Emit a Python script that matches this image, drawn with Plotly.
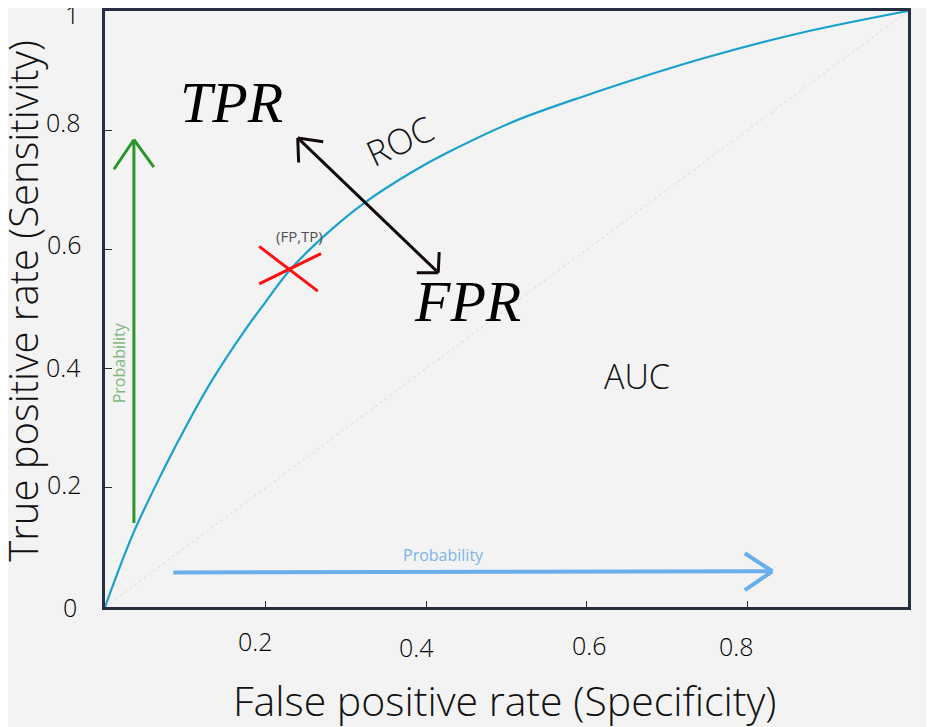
import plotly.graph_objects as go

# ROC curve (false positive rate, true positive rate)
fpr = [0.0, 0.035, 0.072, 0.106, 0.134, 0.172, 0.199, 0.230, 0.280, 0.324,
       0.384, 0.426, 0.508, 0.592, 0.741, 0.866, 1.0]
tpr = [0.0, 0.123, 0.228, 0.316, 0.382, 0.460, 0.510, 0.565, 0.631, 0.679,
       0.731, 0.762, 0.814, 0.855, 0.919, 0.963, 1.0]

chance_x = [0, 1]
chance_y = [0, 1]

tick_vals = [0, 0.2, 0.4, 0.6, 0.8, 1]
tick_text = ["0", "0.2", "0.4", "0.6", "0.8", "1"]

# marked operating point and the hand drawn arrows (data coords, tail -> tip)
point_fp, point_tp = 0.230, 0.566
green_arrow_x = [0.036, 0.036]
green_arrow_y = [0.141, 0.784]
blue_arrow_x = [0.085, 0.831]
blue_arrow_y = [0.058, 0.060]
trade_arrow_x = [0.240, 0.415]
trade_arrow_y = [0.787, 0.561]

BG = "#f3f3f3"
AXIS = "#262f3f"
SANS = "Open Sans"
SERIF = "Liberation Serif"
GREEN = "#2a962a"
BLUE = "#6aaeea"
BLACK = "#120a0a"

fig = go.Figure()

# chance diagonal
fig.add_trace(go.Scatter(x=chance_x, y=chance_y, mode="lines",
                         line=dict(color="#d8d8d8", width=1, dash="dot"),
                         hoverinfo="skip", showlegend=False))

# ROC curve
fig.add_trace(go.Scatter(x=fpr, y=tpr, mode="lines",
                         line=dict(color="#1aa0cc", width=2.2, shape="spline", smoothing=1.0),
                         showlegend=False))

# arrow shafts
fig.add_trace(go.Scatter(x=green_arrow_x, y=green_arrow_y, mode="lines",
                         line=dict(color=GREEN, width=3), hoverinfo="skip", showlegend=False))
fig.add_trace(go.Scatter(x=blue_arrow_x, y=blue_arrow_y, mode="lines",
                         line=dict(color=BLUE, width=4), hoverinfo="skip", showlegend=False))
fig.add_trace(go.Scatter(x=trade_arrow_x, y=trade_arrow_y, mode="lines",
                         line=dict(color=BLACK, width=3), hoverinfo="skip", showlegend=False))

# red cross on the operating point
fig.add_trace(go.Scatter(x=[point_fp - 0.038, point_fp + 0.035, None, point_fp - 0.038, point_fp + 0.039],
                         y=[point_tp + 0.039, point_tp - 0.036, None, point_tp - 0.024, point_tp + 0.027],
                         mode="lines", line=dict(color="#ff1010", width=3),
                         hoverinfo="skip", showlegend=False))


def arm(x, y, dx, dy, color, width):
    # one stroke of an open arrow head, drawn back from the tip by (dx, dy) pixels
    return dict(x=x, y=y, xref="x", yref="y", ax=dx, ay=dy, text="", showarrow=True,
                arrowhead=0, arrowwidth=width, arrowcolor=color, standoff=0, startstandoff=0)


annotations = [
    arm(green_arrow_x[1], green_arrow_y[1], -21, 31, GREEN, 3),
    arm(green_arrow_x[1], green_arrow_y[1], 21, 29, GREEN, 3),
    arm(blue_arrow_x[1], blue_arrow_y[1], -29, -19, BLUE, 4),
    arm(blue_arrow_x[1], blue_arrow_y[1], -29, 20, BLUE, 4),
    arm(trade_arrow_x[0], trade_arrow_y[0], 27, 4, BLACK, 3),
    arm(trade_arrow_x[0], trade_arrow_y[0], 1, 26, BLACK, 3),
    arm(trade_arrow_x[1], trade_arrow_y[1], -23, 0, BLACK, 3),
    arm(trade_arrow_x[1], trade_arrow_y[1], 1, -22, BLACK, 3),
]

# tick labels, nudged like in the sketch
tick_font = dict(family=SANS, size=25, color="#000000", weight=300)
x_nudge = {"0.2": (-10, -34), "0.4": (-10, -40), "0.6": (3, -38), "0.8": (-11, -39), "1": (23, -6)}
y_nudge = {"0": (-35, 0), "0.2": (-41, 4), "0.4": (-42, 2), "0.6": (-41, 5), "0.8": (-42, 8), "1": (-33, -3)}
for v, t in zip(tick_vals, tick_text):
    if t in x_nudge:
        dx, dy = x_nudge[t]
        annotations.append(dict(x=v, y=0, xref="x", yref="y", text=t, showarrow=False,
                                xanchor="center", yanchor="middle",
                                xshift=dx, yshift=dy, font=tick_font))
    dx, dy = y_nudge[t]
    annotations.append(dict(x=0, y=v, xref="x", yref="y", text=t, showarrow=False,
                            xanchor="center", yanchor="middle",
                            xshift=dx, yshift=dy, font=tick_font))

# axis titles
annotations.append(dict(x=0.498, y=-0.156, xref="paper", yref="paper", text="False positive rate (Specificity)",
                        xanchor="center", yanchor="middle", showarrow=False,
                        font=dict(family=SANS, size=41, color="#111111", weight=300)))
annotations.append(dict(x=-0.102, y=0.514, xref="paper", yref="paper", text="True positive rate (Sensitivity)",
                        xanchor="center", yanchor="middle", textangle=-90, showarrow=False,
                        font=dict(family=SANS, size=40, color="#111111", weight=300)))

# labels on the sketch
annotations += [
    dict(x=0.158, y=0.846, xref="x", yref="y", text="<i>TPR</i>", showarrow=False,
         font=dict(family=SERIF, size=58, color="#000000")),
    dict(x=0.451, y=0.513, xref="x", yref="y", text="<i>FPR</i>", showarrow=False,
         font=dict(family=SERIF, size=58, color="#000000")),
    dict(x=0.367, y=0.783, xref="x", yref="y", text="ROC", textangle=-25, showarrow=False,
         font=dict(family=SANS, size=35, color="#111111", weight=300)),
    dict(x=0.663, y=0.387, xref="x", yref="y", text="AUC", showarrow=False,
         font=dict(family=SANS, size=34, color="#111111", weight=300)),
    dict(x=point_fp, y=point_tp, xref="x", yref="y", text="(FP,TP)", showarrow=False,
         xshift=10, yshift=34, font=dict(family=SANS, size=15, color="#505050")),
    dict(x=0.017, y=0.41, xref="x", yref="y", text="Probability", textangle=-90, showarrow=False,
         font=dict(family=SANS, size=16, color="#80b880")),
    dict(x=0.421, y=0.088, xref="x", yref="y", text="Probability", showarrow=False,
         font=dict(family=SANS, size=16, color="#7ab4e8")),
]

# the page puts the figure 8px in from the top-left corner
fig.update_layout(
    width=926, height=719,
    margin=dict(l=97, r=26, t=0, b=120),
    paper_bgcolor=BG, plot_bgcolor=BG,
    annotations=annotations,
    showlegend=False,
)
fig.update_xaxes(range=[0, 1], tickvals=tick_vals[1:-1], showticklabels=False,
                 ticks="inside", ticklen=6, tickcolor=AXIS,
                 showline=True, linecolor=AXIS, linewidth=3, mirror=True,
                 showgrid=False, zeroline=False)
fig.update_yaxes(range=[0, 1], tickvals=tick_vals[1:-1], showticklabels=False,
                 ticks="inside", ticklen=7, tickcolor=AXIS,
                 showline=True, linecolor=AXIS, linewidth=3, mirror=True,
                 showgrid=False, zeroline=False)

fig.write_html("out.html")
